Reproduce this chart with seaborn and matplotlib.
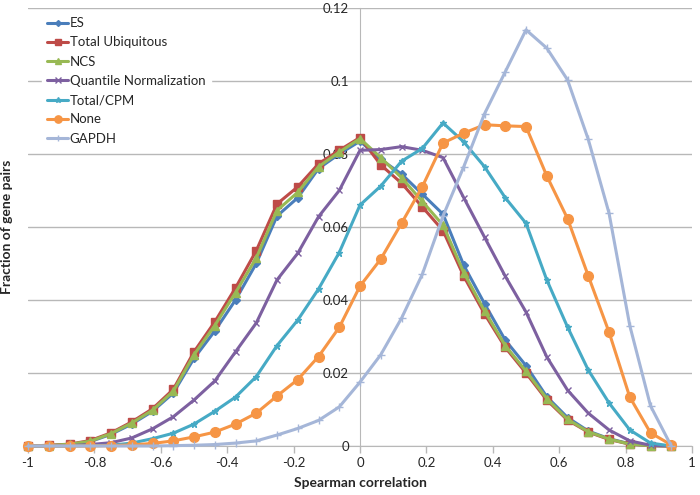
import matplotlib
matplotlib.use('Agg')
import matplotlib.pyplot as plt
import pandas as pd
import seaborn as sns

# spearman correlation bins
corr = [-1.0, -0.9375, -0.875, -0.8125, -0.75, -0.6875, -0.625, -0.5625,
        -0.5, -0.4375, -0.375, -0.3125, -0.25, -0.1875, -0.125, -0.0625,
        0.0, 0.0625, 0.125, 0.1875, 0.25, 0.3125, 0.375, 0.4375,
        0.5, 0.5625, 0.625, 0.6875, 0.75, 0.8125, 0.875, 0.9375]

es = [0.0, 0.0001, 0.0004, 0.0012, 0.0032, 0.006, 0.0095, 0.0145,
      0.024, 0.0315, 0.04, 0.05, 0.063, 0.068, 0.076, 0.08,
      0.0835, 0.0785, 0.0745, 0.069, 0.0635, 0.0495, 0.039, 0.029,
      0.022, 0.0135, 0.0078, 0.0041, 0.002, 0.0006, 0.0001, 0.0]
total_ubiq = [0.0, 0.0002, 0.0005, 0.0015, 0.0036, 0.0066, 0.0102, 0.0155,
              0.0258, 0.034, 0.0433, 0.0535, 0.0663, 0.071, 0.0773, 0.081,
              0.0845, 0.077, 0.072, 0.0655, 0.059, 0.0465, 0.0362, 0.027,
              0.02, 0.0126, 0.0071, 0.0038, 0.0018, 0.0005, 0.0001, 0.0]
ncs = [0.0, 0.0001, 0.0005, 0.0013, 0.0034, 0.0063, 0.0098, 0.015,
       0.025, 0.033, 0.042, 0.0515, 0.0645, 0.0695, 0.0765, 0.0805,
       0.0842, 0.079, 0.0735, 0.067, 0.0605, 0.0475, 0.037, 0.0275,
       0.0205, 0.013, 0.0073, 0.0039, 0.0019, 0.0005, 0.0001, 0.0]
quantile = [0.0, 0.0, 0.0001, 0.0004, 0.0009, 0.0022, 0.0047, 0.008,
            0.0126, 0.0178, 0.0258, 0.0337, 0.0455, 0.0528, 0.0628, 0.07,
            0.081, 0.0812, 0.082, 0.081, 0.079, 0.068, 0.0572, 0.0465,
            0.0367, 0.0244, 0.0153, 0.009, 0.0044, 0.0014, 0.0002, 0.0]
total_cpm = [0.0, 0.0, 0.0, 0.0001, 0.0002, 0.0008, 0.002, 0.0035,
             0.006, 0.0095, 0.0134, 0.019, 0.0275, 0.0345, 0.043, 0.053,
             0.066, 0.0712, 0.078, 0.0815, 0.0885, 0.0833, 0.0765, 0.068,
             0.061, 0.0455, 0.0326, 0.0208, 0.0118, 0.0044, 0.0008, 0.0]
none = [0.0, 0.0, 0.0, 0.0, 0.0001, 0.0003, 0.0007, 0.0014,
        0.0025, 0.0038, 0.006, 0.009, 0.0137, 0.0182, 0.0245, 0.0325,
        0.0438, 0.0512, 0.061, 0.071, 0.083, 0.0857, 0.088, 0.0877,
        0.0875, 0.074, 0.0623, 0.0466, 0.0312, 0.0134, 0.0036, 0.0003]
gapdh = [0.0, 0.0, 0.0, 0.0, 0.0, 0.0, 0.0, 0.0001,
         0.0002, 0.0004, 0.0008, 0.0014, 0.003, 0.0048, 0.007, 0.0107,
         0.0175, 0.025, 0.035, 0.047, 0.063, 0.0765, 0.091, 0.1025,
         0.114, 0.109, 0.1003, 0.084, 0.0638, 0.033, 0.011, 0.0]

labels = ['ES', 'Total Ubiquitous', 'NCS', 'Quantile Normalization',
          'Total/CPM', 'None', 'GAPDH']
colors = ['#4A7EBB', '#BE4B48', '#98B954', '#7D60A0', '#46AAC5', '#F69545', '#A5B6D8']
markers = ['D', 's', '^', 'x', '*', 'o', '+']
msizes = [4, 6, 6, 5, 5, 7, 6]

df = pd.DataFrame({'corr': corr, 'ES': es, 'Total Ubiquitous': total_ubiq, 'NCS': ncs,
                   'Quantile Normalization': quantile, 'Total/CPM': total_cpm,
                   'None': none, 'GAPDH': gapdh})

sns.set_style('white')
plt.rcParams['font.family'] = ['Lato', 'DejaVu Sans']
plt.rcParams['axes.unicode_minus'] = False

fig = plt.figure(figsize=(7, 4.95), dpi=100)
ax = fig.add_axes([0.04, 0.099, 0.9486, 0.885])

for name, c, m, ms in zip(labels, colors, markers, msizes):
    sns.lineplot(data=df, x='corr', y=name, ax=ax, color=c, marker=m, markersize=ms,
                 markeredgecolor=c, markeredgewidth=1, linewidth=2.2, label=name,
                 clip_on=False, zorder=3)

ax.set_xlim(-1, 1)
ax.set_ylim(0, 0.12)
ax.set_yticks([0, 0.02, 0.04, 0.06, 0.08, 0.1, 0.12])
ax.set_yticklabels(['0', '0.02', '0.04', '0.06', '0.08', '0.1', '0.12'])
ax.set_xticks([-1, -0.8, -0.6, -0.4, -0.2, 0, 0.2, 0.4, 0.6, 0.8, 1])
ax.set_xticklabels(['-1', '-0.8', '-0.6', '-0.4', '-0.2', '0', '0.2', '0.4', '0.6', '0.8', '1'])
ax.grid(axis='y', color='#B8B8B8', linewidth=1)
ax.set_axisbelow(True)

# excel style: vertical axis sits at x = 0
ax.spines['left'].set_position(('data', 0))
for side in ['left', 'bottom']:
    ax.spines[side].set_color('#B8B8B8')
    ax.spines[side].set_zorder(0.5)
ax.spines['top'].set_visible(False)
ax.spines['right'].set_visible(False)
ax.tick_params(axis='y', length=0, pad=8, labelsize=9.5)
ax.tick_params(axis='x', length=5, width=1, color='#B8B8B8', direction='out', pad=3,
               labelsize=9.5, bottom=True)

ax.set_xlabel('Spearman correlation', fontsize=10, fontweight='bold', labelpad=6)
ax.set_ylabel('Fraction of gene pairs', fontsize=10, fontweight='bold')
ax.yaxis.set_label_coords(-0.022, 0.5)

leg = ax.legend(loc='upper left', bbox_to_anchor=(0.021, 0.991), borderaxespad=0,
                frameon=True, fancybox=False, framealpha=1, facecolor='white',
                edgecolor='white', fontsize=9.5, handlelength=1.6, handletextpad=0.1,
                labelspacing=0.55, borderpad=0.4, markerscale=0.75)
leg.set_zorder(5)

fig.savefig('out.png', dpi=100)
